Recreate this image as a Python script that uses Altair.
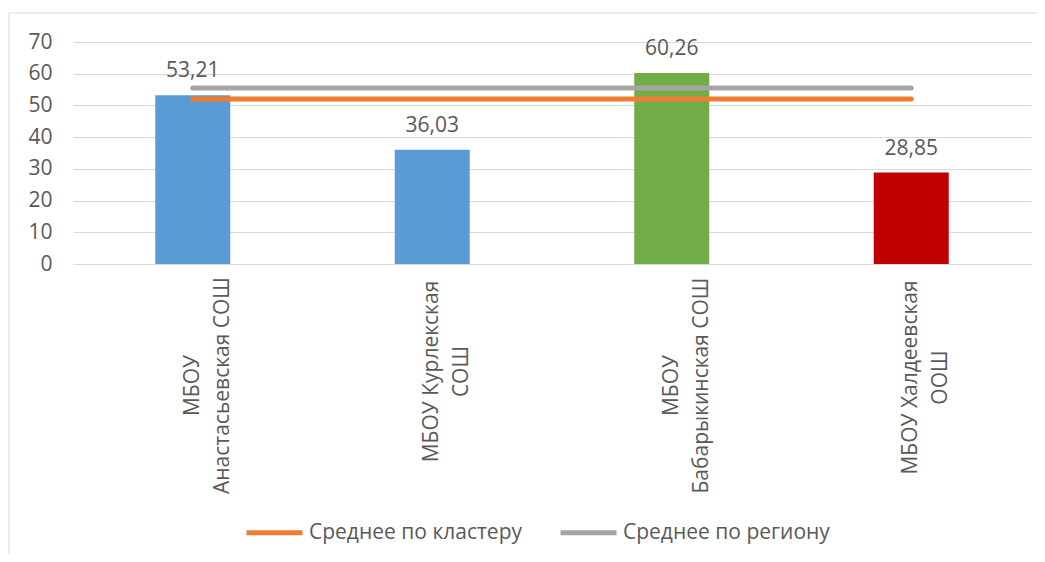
import altair as alt
import pandas as pd

# ---- data ----
schools = [
    "МБОУ|Анастасьевская СОШ",
    "МБОУ Курлекская|СОШ",
    "МБОУ|Бабарыкинская СОШ",
    "МБОУ Халдеевская|ООШ",
]
scores = [53.21, 36.03, 60.26, 28.85]
bar_colors = ["#5B9BD5", "#5B9BD5", "#70AD47", "#C00000"]

series_names = ["Среднее по кластеру", "Среднее по региону"]
series_colors = ["#ED7D31", "#A5A5A5"]
cluster_avg = [52.0, 52.0, 52.0, 52.0]
region_avg = [55.5, 55.5, 55.5, 55.5]

y_ticks = [0, 10, 20, 30, 40, 50, 60, 70]

FONT = "Open Sans"
TXT = "#595959"
GRID = "#D9D9D9"
FS = 21

bars_df = pd.DataFrame({"school": schools, "score": scores, "bar_color": bar_colors})
lines_df = pd.DataFrame({
    "school": schools * 2,
    "score": cluster_avg + region_avg,
    "series": [series_names[0]] * 4 + [series_names[1]] * 4,
})
frame_df = pd.DataFrame({"a": [0]})

x_enc = alt.X(
    "school:N",
    title=None,
    sort=schools,
    scale=alt.Scale(domain=schools, paddingInner=0, paddingOuter=0),
    axis=alt.Axis(
        labelExpr="split(datum.label, '|')",
        labelAngle=-90,
        labelAlign="center",
        labelBaseline="middle",
        labelLineHeight=30,
        labelFont=FONT,
        labelFontSize=FS,
        labelColor=TXT,
        labelLimit=0,
        labelOverlap=False,
        labelPadding={
            "condition": [
                {"test": f"datum.value === '{schools[1]}'", "value": 107},
                {"test": f"datum.value === '{schools[3]}'", "value": 113},
            ],
            "value": 121,
        },
        ticks=False,
        domainColor=GRID,
        domainWidth=1,
        grid=False,
    ),
)
y_enc = alt.Y(
    "score:Q",
    title=None,
    scale=alt.Scale(domain=[0, 70], nice=False, zero=True),
    axis=alt.Axis(
        values=y_ticks,
        tickCount=8,
        labelFont=FONT,
        labelFontSize=FS,
        labelColor=TXT,
        labelPadding=21,
        labelOverlap=False,
        labelFlush=False,
        ticks=False,
        domain=False,
        grid=True,
        gridColor=GRID,
        gridWidth=1,
    ),
)

frame = alt.Chart(frame_df).mark_rect(
    fill="transparent", stroke=GRID, strokeWidth=1
).encode(
    x=alt.value(-64), x2=alt.value(985), y=alt.value(-29), y2=alt.value(535)
)

bars = alt.Chart(bars_df).mark_bar(size=75).encode(
    x=x_enc,
    y=y_enc,
    fill=alt.Fill("bar_color:N", scale=None),
)

labels = alt.Chart(bars_df).transform_calculate(
    txt="replace(format(datum.score, '.2f'), '.', ',')"
).mark_text(
    font=FONT, fontSize=FS, color=TXT, baseline="alphabetic", align="center", dy=-18
).encode(
    x=x_enc,
    y=y_enc,
    text="txt:N",
)

lines = alt.Chart(lines_df).mark_line(strokeWidth=5, strokeCap="round").encode(
    x=x_enc,
    y=y_enc,
    stroke=alt.Stroke(
        "series:N",
        sort=series_names,
        scale=alt.Scale(domain=series_names, range=series_colors),
        legend=alt.Legend(
            title=None,
            orient="none",
            direction="horizontal",
            legendX=171,
            legendY=460,
            symbolType="stroke",
            symbolSize=3136,
            symbolStrokeWidth=5,
            labelFont=FONT,
            labelFontSize=FS,
            labelColor=TXT,
            labelLimit=0,
            labelOffset=4,
            columnPadding=27,
            padding=0,
        ),
    ),
)

chart = (
    alt.layer(frame, bars, labels, lines)
    .properties(
        width=958,
        height=222,
        view=alt.ViewBackground(strokeOpacity=0, strokeWidth=0),
        autosize=alt.AutoSizeParams(type="none"),
        padding={"left": 65, "top": 34, "right": 6, "bottom": 290},
    )
    .configure_view(strokeWidth=0, strokeOpacity=0)
    .configure(background="white")
)

chart.save("out.html", embed_options={"renderer": "svg", "actions": False})
